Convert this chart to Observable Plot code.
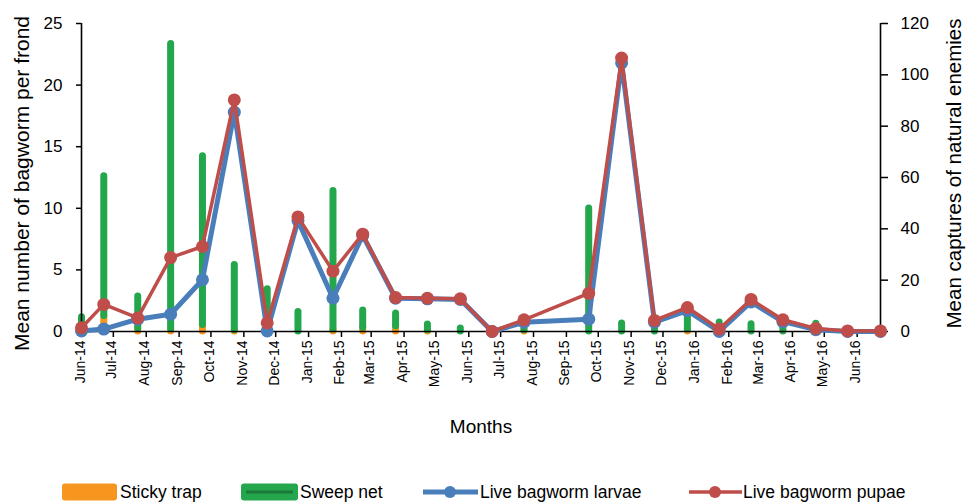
<!DOCTYPE html>
<html><head><meta charset="utf-8">
<script src="https://cdn.jsdelivr.net/npm/d3@7"></script>
<script src="https://cdn.jsdelivr.net/npm/@observablehq/plot@0.6"></script>
<style>
body{margin:0;background:#fff;font-family:"Liberation Sans",Arial,sans-serif;}
#wrap{position:relative;width:967px;height:504px;overflow:hidden;}
#chart svg{display:block;}
#legend{position:absolute;left:0;top:478px;}
</style></head><body>
<div id="wrap"><div id="chart"></div><div id="legend"></div></div>
<script>
// Sampling dates (positions)
const dates = ["2014-06-01","2014-06-22","2014-07-24","2014-08-24","2014-09-23","2014-10-23","2014-11-23","2014-12-22",
  "2015-01-24","2015-02-21","2015-03-24","2015-04-23","2015-05-24","2015-06-23","2015-07-23","2015-09-22",
  "2015-10-23","2015-11-23","2015-12-24","2016-01-23","2016-02-22","2016-03-23","2016-04-23","2016-05-23","2016-06-23"];
// Mean number of bagworm per frond (left axis)
const larvae = [0.05,0.2,1.0,1.4,4.2,17.8,0.05,9.0,2.7,7.8,2.7,2.65,2.6,0,0.75,1.0,21.8,0.75,1.7,0,2.4,0.8,0.15,0,0];
const pupae  = [0.3,2.2,1.1,6.0,6.9,18.8,0.7,9.3,4.9,7.9,2.75,2.7,2.65,0,0.95,3.1,22.2,0.9,1.95,0.2,2.6,0.95,0.25,0.05,0.05];
// Mean captures of natural enemies (right axis)
const sticky = [0,6,1.2,1,2.5,0.5,0,0,0.8,1.5,2,0.5,0,0,0.5,0,0,0,0.8,0,0,0,0,0,0];
const sweep  = [5.6,54.5,12.4,111,65.8,25.4,16.5,7.6,53.9,6.7,5.0,2.2,1.2,0,0.5,47.9,3.1,3.0,4.8,3.5,2.8,3.5,3.0,0,0];
const leftTicks = [0,5,10,15,20,25];
const rightTicks = [0,20,40,60,80,100,120];
const seriesNames = ["Sticky trap","Sweep net","Live bagworm larvae","Live bagworm pupae"];

const colors = {sticky:"#F7961E", sweep:"#24A74C", larvae:"#4A7EBB", pupae:"#BF4D4A"};
const parse = d3.utcParse("%Y-%m-%d");
const data = dates.map((d,i)=>({date:parse(d), larvae:larvae[i], pupae:pupae[i], sticky:sticky[i], sweep:sweep[i]}));
const k = 25/120;
const xDomain = [parse("2014-06-01"), parse(dates[dates.length-1])];
const monthTicks = d3.utcMonth.range(parse("2014-06-01"), parse("2016-06-02"));
const fmt = d3.utcFormat("%b-%y");

const chart = Plot.plot({
  width: 967, height: 470,
  marginLeft: 81, marginRight: 87, marginTop: 23, marginBottom: 139,
  style: {fontFamily: "'Liberation Sans', Arial, sans-serif", color: "#000", background: "#fff"},
  x: {type: "utc", domain: xDomain},
  y: {domain: [0,25]},
  marks: [
    Plot.ruleX(data.filter(d=>d.sticky>0), {x:"date", y1:0, y2:d=>d.sticky*k, stroke:colors.sticky, strokeWidth:7, strokeLinecap:"round"}),
    Plot.ruleX(data.filter(d=>d.sweep>0), {x:"date", y1:d=>d.sticky*k, y2:d=>(d.sticky+d.sweep)*k, stroke:colors.sweep, strokeWidth:7, strokeLinecap:"round"}),
    Plot.axisX({ticks: monthTicks, tickSize: 6, tickFormat: () => "", label: null, strokeWidth: 1.5}),
    Plot.text(monthTicks, {x: d=>d, text: d=>fmt(d), frameAnchor:"bottom", rotate:-90, textAnchor:"end", dy: 9, dx: 3, fontSize: 14}),
    Plot.axisY(leftTicks, {tickSize: 5, tickPadding: 14, fontSize: 17, label: null, strokeWidth: 1.5}),
    Plot.axisY(rightTicks.map(v=>v*k), {anchor:"right", tickFormat: d=>Math.round(d/k), tickSize: 7, tickPadding: 13, fontSize: 17, label: null, strokeWidth: 1.5}),
    Plot.ruleY([0], {stroke:"#000", strokeWidth:1.6}),
    Plot.ruleX(xDomain, {y1:0, y2:25, stroke:"#000", strokeWidth:1.6}),
    Plot.text(["Mean number of bagworm per frond"], {frameAnchor:"left", textAnchor:"middle", dx:-59, dy:6, rotate:-90, fontSize:21}),
    Plot.text(["Mean captures of natural enemies"], {frameAnchor:"right", textAnchor:"middle", dx:74, dy:-4, rotate:-90, fontSize:20.5}),
    Plot.text(["Months"], {frameAnchor:"bottom", dy:101, fontSize:19}),
    Plot.line(data, {x:"date", y:"larvae", stroke:colors.larvae, strokeWidth:5}),
    Plot.dot(data, {x:"date", y:"larvae", r:6.5, fill:colors.larvae}),
    Plot.line(data, {x:"date", y:"pupae", stroke:colors.pupae, strokeWidth:3.5}),
    Plot.dot(data, {x:"date", y:"pupae", r:6.5, fill:colors.pupae})
  ]
});
document.getElementById("chart").appendChild(chart);

// Legend
const lg = d3.select("#legend").append("svg").attr("width",967).attr("height",28)
  .style("font-family","'Liberation Sans', Arial, sans-serif").style("font-size","17.5px");
const cy = 14;
lg.append("rect").attr("x",62).attr("y",cy-8.5).attr("width",55).attr("height",17).attr("rx",3).attr("fill",colors.sticky);
lg.append("text").attr("x",120).attr("y",cy).attr("dy","0.35em").text(seriesNames[0]);
lg.append("rect").attr("x",241).attr("y",cy-8.5).attr("width",57).attr("height",17).attr("rx",3).attr("fill",colors.sweep);
lg.append("rect").attr("x",246).attr("y",cy-1.5).attr("width",47).attr("height",3).attr("fill","#1B7A38");
lg.append("text").attr("x",300).attr("y",cy).attr("dy","0.35em").text(seriesNames[1]);
lg.append("line").attr("x1",423).attr("x2",478).attr("y1",cy).attr("y2",cy).attr("stroke",colors.larvae).attr("stroke-width",5);
lg.append("circle").attr("cx",450).attr("cy",cy).attr("r",6).attr("fill",colors.larvae);
lg.append("text").attr("x",480).attr("y",cy).attr("dy","0.35em").text(seriesNames[2]);
lg.append("line").attr("x1",689).attr("x2",742).attr("y1",cy).attr("y2",cy).attr("stroke",colors.pupae).attr("stroke-width",3.5);
lg.append("circle").attr("cx",715).attr("cy",cy).attr("r",6).attr("fill",colors.pupae);
lg.append("text").attr("x",743).attr("y",cy).attr("dy","0.35em").text(seriesNames[3]);
</script>
</body></html>
